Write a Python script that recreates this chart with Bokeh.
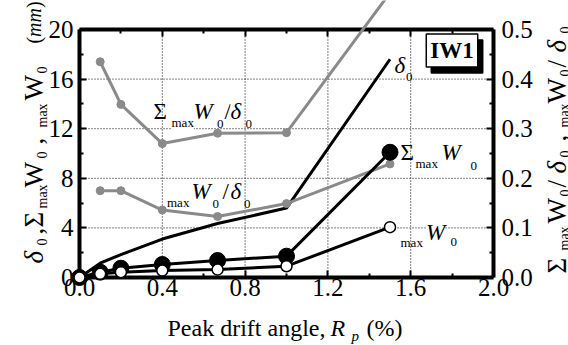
import math
from bokeh.plotting import figure
from bokeh.models import Range1d, LinearAxis, FixedTicker, Label, PrintfTickFormatter
from bokeh.embed import file_html
from bokeh.resources import INLINE

# ---------------- data ----------------
drift = [0.0, 0.1, 0.2, 0.4, 0.667, 1.0, 1.5]          # peak drift angle Rp (%)
delta0 = [0.0, 1.15, 1.85, 3.1, 4.35, 5.6, 17.6]      # delta_0 (mm)
sum_w0 = [0.0, 0.43, 0.75, 1.05, 1.37, 1.72, 10.1]    # Sigma max W0 (mm)
max_w0 = [0.0, 0.30, 0.43, 0.56, 0.64, 0.91, 4.06]    # max W0 (mm)
ratio_drift = [0.1, 0.2, 0.4, 0.667, 1.0, 1.5]
sum_ratio = [0.435, 0.349, 0.270, 0.291, 0.292, 0.574]  # Sigma max W0 / delta0
max_ratio = [0.175, 0.175, 0.136, 0.123, 0.149, 0.229]  # max W0 / delta0

x_ticks = [0.0, 0.4, 0.8, 1.2, 1.6, 2.0]
x_minor = [0.2, 0.6, 1.0, 1.4, 1.8]
y_ticks = [0, 4, 8, 12, 16, 20]
y_minor = [2, 6, 10, 14, 18]
r_ticks = [0.0, 0.1, 0.2, 0.3, 0.4, 0.5]
r_minor = [0.05, 0.15, 0.25, 0.35, 0.45]
x_lim = (0.0, 2.0)
y_lim = (0.0, 20.0)
r_lim = (0.0, 0.5)
RATIO = y_lim[1] / r_lim[1]

# ---------------- geometry ----------------
FONT = "Liberation Serif"
GRAY = "#8a8a8a"
CW, CH = 568, 345
XPX = 207.0      # px per x unit
YPX = 12.4       # px per y unit
X0 = 79          # px of x=0
Y0 = 277         # px of y=0
x_start = -X0 / XPX
x_end = (CW - X0) / XPX
y_start = -(CH - Y0) / YPX
y_end = Y0 / YPX

# the frame covers the whole canvas; axes are placed at fixed locations
p = figure(width=CW, height=CH,
           x_range=Range1d(x_start, x_end), y_range=Range1d(y_start, y_end),
           x_axis_location=None, y_axis_location=None,
           toolbar_location=None, output_backend="svg",
           min_border_left=0, min_border_right=0,
           min_border_top=0, min_border_bottom=0)
p.outline_line_color = None
p.background_fill_color = "white"
p.border_fill_color = "white"
p.xgrid.visible = False
p.ygrid.visible = False
p.extra_y_ranges = {"r": Range1d(y_start / RATIO, y_end / RATIO)}


def style_axis(ax, standoff):
    ax.axis_line_width = 4
    ax.axis_line_color = "black"
    ax.major_tick_in = 7
    ax.major_tick_out = 0
    ax.minor_tick_in = 4
    ax.minor_tick_out = 0
    ax.major_tick_line_width = 2
    ax.minor_tick_line_width = 2
    ax.major_label_text_font = FONT
    ax.major_label_text_font_size = "25px"
    ax.major_label_text_color = "black"
    ax.major_label_standoff = standoff
    ax.level = "underlay"


# grid (dotted)
h_grid = y_ticks[1:-1]
v_grid = x_ticks[1:-1]
p.segment(x0=x_lim[0], x1=x_lim[1], y0=h_grid, y1=h_grid,
          line_color="black", line_width=1, line_dash="1 2", level="image")

ax_left = LinearAxis(fixed_location=x_lim[0], bounds=y_lim,
                     ticker=FixedTicker(ticks=y_ticks, minor_ticks=y_minor),
                     formatter=PrintfTickFormatter(format="%d"))
style_axis(ax_left, 6)
p.add_layout(ax_left, "left")

ax_bottom = LinearAxis(fixed_location=y_lim[0], bounds=x_lim,
                       ticker=FixedTicker(ticks=x_ticks, minor_ticks=x_minor),
                       formatter=PrintfTickFormatter(format="%.1f"))
style_axis(ax_bottom, 1)
p.add_layout(ax_bottom, "below")

ax_right = LinearAxis(y_range_name="r", fixed_location=x_lim[1], bounds=r_lim,
                      ticker=FixedTicker(ticks=r_ticks, minor_ticks=r_minor),
                      formatter=PrintfTickFormatter(format="%.1f"))
style_axis(ax_right, 8)
p.add_layout(ax_right, "right")

# top frame edge with inward ticks, no labels
ax_top = LinearAxis(fixed_location=y_lim[1], bounds=x_lim,
                    ticker=FixedTicker(ticks=x_ticks, minor_ticks=x_minor),
                    major_label_overrides={t: "" for t in x_ticks})
style_axis(ax_top, 1)
p.add_layout(ax_top, "above")

p.segment(x0=v_grid, x1=v_grid, y0=y_lim[0], y1=y_lim[1],
          line_color="black", line_width=1, line_dash="1 2")

# data
p.line(drift, delta0, line_color="black", line_width=3)
p.line(ratio_drift, sum_ratio, y_range_name="r", line_color=GRAY, line_width=3)
p.scatter(ratio_drift, sum_ratio, y_range_name="r", size=8, color=GRAY)
p.line(ratio_drift, max_ratio, y_range_name="r", line_color=GRAY, line_width=3)
p.scatter(ratio_drift, max_ratio, y_range_name="r", size=8, color=GRAY)
p.line(drift, sum_w0, line_color="black", line_width=3)
p.scatter(drift, sum_w0, size=16, fill_color="black", line_color="black")
p.line(drift, max_w0, line_color="black", line_width=3)
p.scatter(drift, max_w0, size=11, fill_color="white", line_color="black", line_width=1.5)


def add_text(text, px, py, size, style="normal", angle=0.0, bg=False, level="annotation"):
    lab = Label(x=(px - X0) / XPX, y=(Y0 - py) / YPX, text=text,
                text_font=FONT, text_font_size=size, text_font_style=style,
                text_color="black", angle=angle,
                text_align="left", text_baseline="alphabetic")
    if bg:
        lab.background_fill_color = "white"
    lab.level = level
    p.add_layout(lab)


MAIN, SUB = "23px", "13px"
# in-plot labels: main glyphs first, subscripts after
inplot = [
    ("Σ", 153, 111, MAIN, "normal"), ("W", 193, 111, MAIN, "italic"),
    ("/", 224, 111, MAIN, "normal"), ("δ", 230, 111, MAIN, "italic"),
    ("W", 191, 191, MAIN, "italic"), ("/", 222, 191, MAIN, "normal"),
    ("δ", 230, 191, MAIN, "italic"),
    ("δ", 394, 65, MAIN, "italic"),
    ("Σ", 400, 152, MAIN, "normal"), ("W", 441, 152, MAIN, "italic"),
    ("W", 425.5, 231.5, MAIN, "italic"),
    ("max", 171, 122, SUB, "normal"), ("0", 216.5, 123, SUB, "normal"),
    ("0", 245, 123.5, SUB, "normal"),
    ("max", 166.5, 201.5, SUB, "normal"), ("0", 212, 203, SUB, "normal"),
    ("0", 243.5, 203, SUB, "normal"),
    ("0", 405.5, 76.5, SUB, "normal"),
    ("max", 415, 163, SUB, "normal"), ("0", 470, 165, SUB, "normal"),
    ("max", 400, 241.5, SUB, "normal"), ("0", 450, 241.5, SUB, "normal"),
]
for t, px, py, sz, st in inplot:
    add_text(t, px, py, sz, st, bg=True, level="underlay")

# x axis title
for t, px, py, sz, st in [("Peak drift angle,", 167, 327, "24px", "normal"),
                          ("R", 330, 327, "24px", "italic"),
                          ("p", 351, 335, "15px", "italic"),
                          ("(%)", 366, 327, "24px", "normal")]:
    add_text(t, px, py, sz, st)

UP = math.pi / 2
AXM, AXS, AXU = "27px", "14px", "20px"
left_title = [
    ("δ", 33, 263, AXM, "italic"), ("0", 41.5, 245, AXS, "normal"),
    (",", 33, 234, AXM, "normal"), ("Σ", 33, 227, AXM, "normal"),
    ("max", 41.5, 208, AXS, "normal"), ("W", 33, 187, AXM, "normal"),
    ("0", 41.5, 158, AXS, "normal"), (",", 33, 144, AXM, "normal"),
    ("max", 41.5, 127, AXS, "normal"), ("W", 33, 100, AXM, "normal"),
    ("0", 41.5, 73, AXS, "normal"), ("(", 33, 43, AXU, "normal"),
    ("mm", 33, 36.5, AXU, "italic"), (")", 33, 7.5, AXU, "normal"),
]
right_title = [
    ("Σ", 556, 273, AXM, "normal"), ("max", 564, 250, AXS, "normal"),
    ("W", 556, 223, AXM, "normal"), ("0", 564, 196, AXS, "normal"),
    ("/", 556, 187, AXM, "normal"), ("δ", 556, 173, AXM, "italic"),
    ("0", 564, 157, AXS, "normal"), (",", 556, 141, AXM, "normal"),
    ("max", 564, 127, AXS, "normal"), ("W", 556, 103, AXM, "normal"),
    ("0", 564, 76, AXS, "normal"), ("/", 556, 67, AXM, "normal"),
    ("δ", 556, 52, AXM, "italic"), ("0", 564, 33, AXS, "normal"),
]
for t, px, py, sz, st in left_title + right_title:
    add_text(t, px, py, sz, st, angle=UP)

# specimen tag with shadow
for cx, cy, fg in [(456.5, 56, "black"), (451.5, 50, "white")]:
    tag = Label(x=(cx - X0) / XPX, y=(Y0 - cy) / YPX, text="IW1",
                text_font=FONT, text_font_size="23px", text_font_style="bold",
                text_color="black", text_align="center", text_baseline="middle",
                background_fill_color=fg, border_line_color="black",
                border_line_width=1.5, padding=4)
    p.add_layout(tag)

open("out.html", "w").write(file_html(p, INLINE))
